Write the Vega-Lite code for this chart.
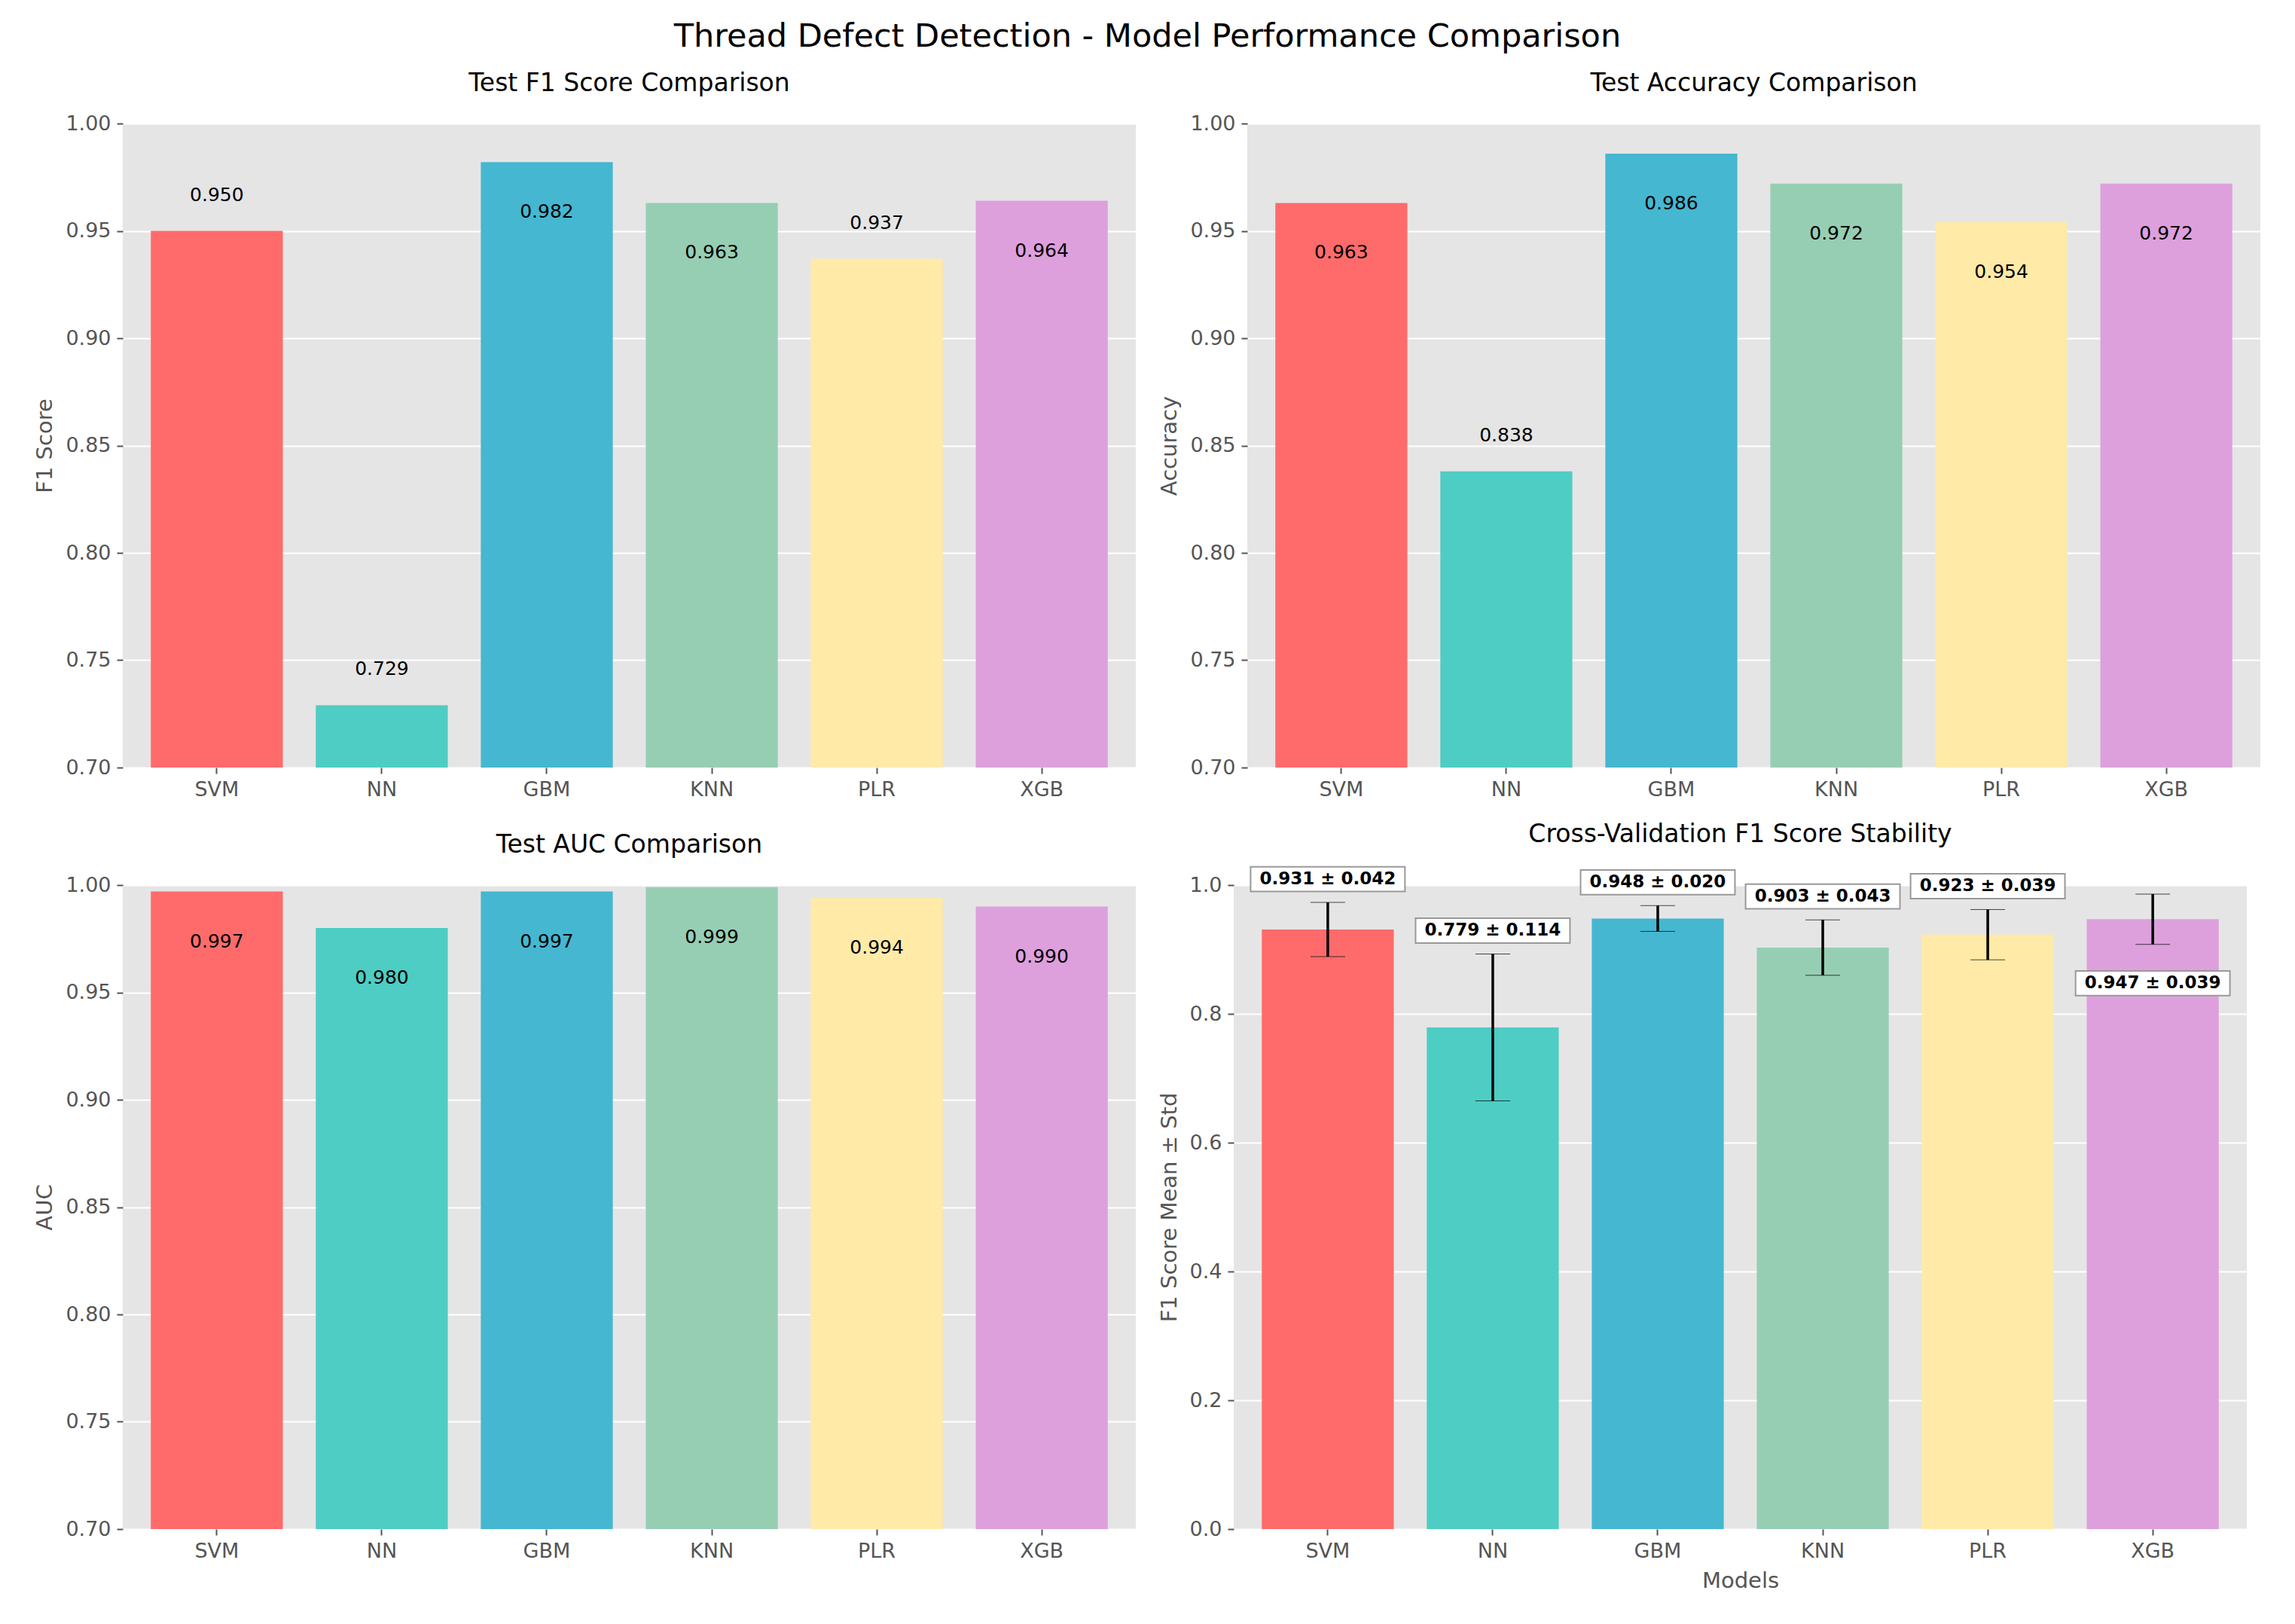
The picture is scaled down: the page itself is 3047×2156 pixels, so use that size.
{
"$schema":"https://vega.github.io/schema/vega-lite/v6.json",
"background":"white",
"padding":{"left":45,"top":28,"right":5,"bottom":5},
"title":{"text":"Thread Defect Detection - Model Performance Comparison","fontSize":43,"fontWeight":"normal","font":"DejaVu Sans","color":"black","anchor":"middle","offset":24},
"config":{
 "font":"DejaVu Sans",
 "view":{"fill":"#E5E5E5","stroke":null},
 "axis":{"gridColor":"white","gridWidth":2,"domain":false,"tickColor":"#555","tickSize":8,"tickWidth":2,"labelColor":"#555","labelFontSize":27,"titleFontSize":29,"titleColor":"#555","titleFontWeight":"normal","labelPadding":8,"titlePadding":12},
 "title":{"fontSize":33,"fontWeight":"normal","color":"black","offset":22},
 "concat":{"spacing":30}
},
"datasets":{
 "test":[
  {"model":"SVM","f1":0.950,"acc":0.963,"auc":0.997},
  {"model":"NN","f1":0.729,"acc":0.838,"auc":0.980},
  {"model":"GBM","f1":0.982,"acc":0.986,"auc":0.997},
  {"model":"KNN","f1":0.963,"acc":0.972,"auc":0.999},
  {"model":"PLR","f1":0.937,"acc":0.954,"auc":0.994},
  {"model":"XGB","f1":0.964,"acc":0.972,"auc":0.990}
 ],
 "cv":[
  {"model":"SVM","mean":0.931,"std":0.042,"label":"0.931 ± 0.042"},
  {"model":"NN","mean":0.779,"std":0.114,"label":"0.779 ± 0.114"},
  {"model":"GBM","mean":0.948,"std":0.020,"label":"0.948 ± 0.020"},
  {"model":"KNN","mean":0.903,"std":0.043,"label":"0.903 ± 0.043"},
  {"model":"PLR","mean":0.923,"std":0.039,"label":"0.923 ± 0.039"},
  {"model":"XGB","mean":0.947,"std":0.039,"label":"0.947 ± 0.039"}
 ]
},
"vconcat":[
 {"spacing":30,"hconcat":[
  {"title":"Test F1 Score Comparison","width":1345,"height":855,"data":{"name":"test"},
   "encoding":{"x":{"field":"model","type":"nominal","sort":null,"scale":{"paddingInner":0.2,"paddingOuter":0.17},"axis":{"title":null,"labelAngle":0}}},
   "layer":[
    {"mark":{"type":"bar","clip":true},"encoding":{"y":{"field":"f1","type":"quantitative","scale":{"domain":[0.7,1.0],"zero":false},"axis":{"title":"F1 Score","values":[0.7,0.75,0.8,0.85,0.9,0.95,1.0],"format":".2f"}},"color":{"field":"model","type":"nominal","sort":null,"scale":{"domain":["SVM","NN","GBM","KNN","PLR","XGB"],"range":["#FF6B6B","#4ECDC4","#45B7D1","#96CEB4","#FFEAA7","#DDA0DD"]},"legend":null}}},
    {"transform":[{"filter":"datum.f1 <= 0.951"}],"mark":{"type":"text","dy":-48,"fontSize":25,"color":"black"},"encoding":{"y":{"field":"f1","type":"quantitative"},"text":{"field":"f1","type":"quantitative","format":".3f"}}},
    {"transform":[{"filter":"datum.f1 > 0.951"}],"mark":{"type":"text","dy":66,"fontSize":25,"color":"black"},"encoding":{"y":{"field":"f1","type":"quantitative"},"text":{"field":"f1","type":"quantitative","format":".3f"}}}
   ]},
  {"title":"Test Accuracy Comparison","width":1345,"height":855,"data":{"name":"test"},
   "encoding":{"x":{"field":"model","type":"nominal","sort":null,"scale":{"paddingInner":0.2,"paddingOuter":0.17},"axis":{"title":null,"labelAngle":0}}},
   "layer":[
    {"mark":{"type":"bar","clip":true},"encoding":{"y":{"field":"acc","type":"quantitative","scale":{"domain":[0.7,1.0],"zero":false},"axis":{"title":"Accuracy","values":[0.7,0.75,0.8,0.85,0.9,0.95,1.0],"format":".2f"}},"color":{"field":"model","type":"nominal","sort":null,"scale":{"domain":["SVM","NN","GBM","KNN","PLR","XGB"],"range":["#FF6B6B","#4ECDC4","#45B7D1","#96CEB4","#FFEAA7","#DDA0DD"]},"legend":null}}},
    {"transform":[{"filter":"datum.acc <= 0.951"}],"mark":{"type":"text","dy":-48,"fontSize":25,"color":"black"},"encoding":{"y":{"field":"acc","type":"quantitative"},"text":{"field":"acc","type":"quantitative","format":".3f"}}},
    {"transform":[{"filter":"datum.acc > 0.951"}],"mark":{"type":"text","dy":66,"fontSize":25,"color":"black"},"encoding":{"y":{"field":"acc","type":"quantitative"},"text":{"field":"acc","type":"quantitative","format":".3f"}}}
   ]}
 ]},
 {"spacing":30,"hconcat":[
  {"title":"Test AUC Comparison","width":1345,"height":855,"data":{"name":"test"},
   "encoding":{"x":{"field":"model","type":"nominal","sort":null,"scale":{"paddingInner":0.2,"paddingOuter":0.17},"axis":{"title":null,"labelAngle":0}}},
   "layer":[
    {"mark":{"type":"bar","clip":true},"encoding":{"y":{"field":"auc","type":"quantitative","scale":{"domain":[0.7,1.0],"zero":false},"axis":{"title":"AUC","values":[0.7,0.75,0.8,0.85,0.9,0.95,1.0],"format":".2f"}},"color":{"field":"model","type":"nominal","sort":null,"scale":{"domain":["SVM","NN","GBM","KNN","PLR","XGB"],"range":["#FF6B6B","#4ECDC4","#45B7D1","#96CEB4","#FFEAA7","#DDA0DD"]},"legend":null}}},
    {"mark":{"type":"text","dy":66,"fontSize":25,"color":"black"},"encoding":{"y":{"field":"auc","type":"quantitative"},"text":{"field":"auc","type":"quantitative","format":".3f"}}}
   ]},
  {"title":{"text":"Cross-Validation F1 Score Stability","fontSize":33},"width":1345,"height":855,"data":{"name":"cv"},
   "transform":[{"calculate":"datum.mean + datum.std","as":"upper"}],
   "encoding":{"x":{"field":"model","type":"nominal","sort":null,"scale":{"paddingInner":0.2,"paddingOuter":0.17},"axis":{"title":"Models","labelAngle":0}}},
   "layer":[
    {"mark":{"type":"bar"},"encoding":{"y":{"field":"mean","type":"quantitative","scale":{"domain":[0,1.0]},"axis":{"title":"F1 Score Mean ± Std","values":[0,0.2,0.4,0.6,0.8,1.0],"format":".1f"}},"color":{"field":"model","type":"nominal","sort":null,"scale":{"domain":["SVM","NN","GBM","KNN","PLR","XGB"],"range":["#FF6B6B","#4ECDC4","#45B7D1","#96CEB4","#FFEAA7","#DDA0DD"]},"legend":null}}},
    {"mark":{"type":"errorbar","ticks":{"size":46,"color":"black","strokeWidth":3.5},"rule":{"color":"black","strokeWidth":3.5}},"encoding":{"y":{"field":"mean","type":"quantitative","title":"F1 Score Mean ± Std"},"yError":{"field":"std"}}},
    {"transform":[{"filter":"datum.model != 'XGB'"}],"mark":{"type":"point","shape":"M-1,-0.16H1V0.16H-1Z","size":42000,"filled":true,"fill":"white","stroke":"#999","strokeWidth":2,"opacity":1,"yOffset":-31},"encoding":{"y":{"field":"upper","type":"quantitative"}}},
    {"transform":[{"filter":"datum.model != 'XGB'"}],"mark":{"type":"text","dy":-31,"fontSize":23,"fontWeight":"bold","color":"black"},"encoding":{"y":{"field":"upper","type":"quantitative"},"text":{"field":"label"}}},
    {"transform":[{"filter":"datum.model == 'XGB'"}],"mark":{"type":"point","shape":"M-1,-0.16H1V0.16H-1Z","size":42000,"filled":true,"fill":"white","stroke":"#999","strokeWidth":2,"opacity":1,"yOffset":85},"encoding":{"y":{"field":"mean","type":"quantitative"}}},
    {"transform":[{"filter":"datum.model == 'XGB'"}],"mark":{"type":"text","dy":85,"fontSize":23,"fontWeight":"bold","color":"black"},"encoding":{"y":{"field":"mean","type":"quantitative"},"text":{"field":"label"}}}
   ]}
 ]}
]
}
